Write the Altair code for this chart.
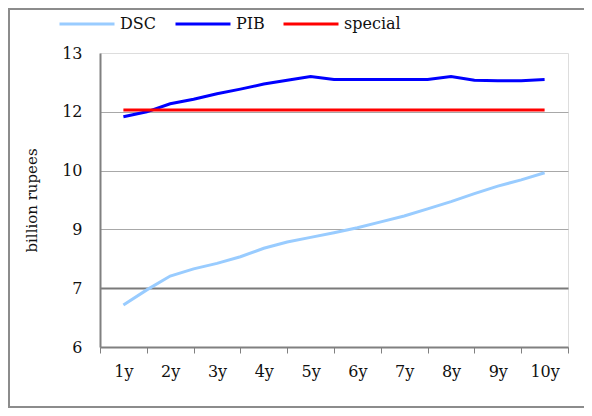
import altair as alt
import pandas as pd

# x positions in years (half-year steps)
years = [1, 1.5, 2, 2.5, 3, 3.5, 4, 4.5, 5, 5.5, 6, 6.5, 7, 7.5, 8, 8.5, 9, 9.5, 10]
dsc = [7.00, 7.36, 7.69, 7.86, 7.99, 8.15, 8.35, 8.50, 8.61, 8.72, 8.84, 8.98,
       9.12, 9.29, 9.46, 9.65, 9.83, 9.98, 10.15]
pib = [11.48, 11.60, 11.79, 11.90, 12.03, 12.14, 12.26, 12.35, 12.44, 12.37,
       12.37, 12.37, 12.37, 12.37, 12.44, 12.35, 12.34, 12.34, 12.37]
special = [11.64] * len(years)

series_names = ["DSC", "PIB", "special"]
series_colors = ["#99CCFF", "#0000FF", "#FF0000"]

x_axis_values = [0.5, 1, 1.5, 2, 2.5, 3, 3.5, 4, 4.5, 5, 5.5, 6, 6.5, 7, 7.5,
                 8, 8.5, 9, 9.5, 10, 10.5]
y_axis_values = [6, 7.4, 8.8, 10.2, 11.6, 13]

rows = []
for name, vals in zip(series_names, [dsc, pib, special]):
    for x, v in zip(years, vals):
        rows.append({"year": x, "value": v, "series": name})
df = pd.DataFrame(rows)

FONT = "DejaVu Serif"

lines = alt.Chart(df).mark_line(strokeWidth=3).encode(
    x=alt.X(
        "year:Q",
        scale=alt.Scale(domain=[0.5, 10.5], nice=False, zero=False),
        axis=alt.Axis(
            values=x_axis_values,
            labelExpr="datum.value % 1 === 0 ? datum.value + 'y' : ''",
            title=None,
            grid=False,
            domainColor="#808080",
            domainWidth=2,
            tickColor="#808080",
            tickSize=6,
            tickOpacity={"condition": {"test": "datum.value % 1 === 0", "value": 0}, "value": 1},
            labelPadding=10,
            labelFont=FONT,
            labelFontSize=16,
            labelColor="#111111",
            labelOverlap=False,
            labelFlush=False,
        ),
    ),
    y=alt.Y(
        "value:Q",
        scale=alt.Scale(domain=[6, 13], nice=False, zero=False),
        axis=alt.Axis(
            values=y_axis_values,
            format=".0f",
            title="billion rupees",
            titleFont=FONT,
            titleFontSize=15,
            titleFontWeight="normal",
            titleColor="#111111",
            titleX=-64,
            titleY=147,
            titleAngle=270,
            titleAlign="center",
            titleBaseline="alphabetic",
            domainColor="#808080",
            domainWidth=2,
            ticks=False,
            labelPadding=18,
            labelFont=FONT,
            labelFontSize=16,
            labelColor="#111111",
            labelFlush=False,
            labelOverlap=False,
            gridColor={"condition": {"test": "abs(datum.value - 7.4) < 0.01", "value": "#7a7a7a"}, "value": "#a8a8a8"},
            gridWidth={"condition": {"test": "abs(datum.value - 7.4) < 0.01", "value": 2}, "value": 1},
            gridOpacity={"condition": {"test": "datum.value >= 12.99", "value": 0}, "value": 1},
        ),
    ),
    color=alt.Color(
        "series:N",
        scale=alt.Scale(domain=series_names, range=series_colors),
        legend=alt.Legend(
            title=None,
            orient="none",
            direction="horizontal",
            legendX=-42,
            legendY=-58,
            symbolType="stroke",
            symbolSize=3025,
            symbolStrokeWidth=3,
            labelFont=FONT,
            labelFontSize=16,
            labelColor="#111111",
            labelOffset=4,
            columnPadding=12,
            padding=0,
        ),
    ),
)

frame = alt.Chart(pd.DataFrame({"f": [0]})).mark_rect(
    fill=None, stroke="#8c8c8c", strokeWidth=2
).encode(
    x=alt.value(-91), x2=alt.value(520), y=alt.value(-44), y2=alt.value(354)
)

chart = alt.layer(frame, lines).properties(
    width=468,
    height=294,
    padding={"left": 92, "top": 45, "right": 16, "bottom": 61},
    autosize=alt.AutoSizeParams(type="none"),
).configure_view(stroke="#1a1a1a", strokeWidth=2).configure(background="white")

chart.save("out.html", embed_options={"renderer": "svg", "actions": False})
